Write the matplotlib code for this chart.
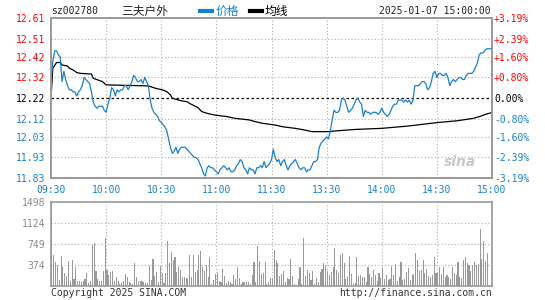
import numpy as np
import matplotlib
matplotlib.use("Agg")
import matplotlib.pyplot as plt
from matplotlib.lines import Line2D

plt.rcParams['font.family'] = ['DejaVu Sans Mono', 'Noto Sans CJK SC']

# ---- data (minute index 0 = 09:30, 120 = 11:30/13:00, 240 = 15:00)
prev_close = 12.22

price = [
    12.30, 12.40, 12.45, 12.45, 12.43, 12.42, 12.30, 12.35, 12.31, 12.28,
    12.26, 12.26, 12.25, 12.25, 12.23, 12.25, 12.26, 12.28, 12.32, 12.31,
    12.30, 12.29, 12.25, 12.20, 12.18, 12.17, 12.18, 12.18, 12.18, 12.16,
    12.15, 12.19, 12.22, 12.27, 12.26, 12.23, 12.26, 12.25, 12.26, 12.26,
    12.28, 12.28, 12.26, 12.28, 12.30, 12.33, 12.32, 12.30, 12.30, 12.31,
    12.29, 12.32, 12.30, 12.28, 12.21, 12.17, 12.15, 12.14, 12.13, 12.11,
    12.10, 12.09, 12.08, 12.06, 12.02, 11.98, 11.95, 11.96, 11.98, 11.95,
    11.97, 11.98, 11.98, 11.98, 11.97, 11.96, 11.95, 11.94, 11.93, 11.93,
    11.92, 11.90, 11.88, 11.85, 11.84, 11.88, 11.89, 11.88, 11.88, 11.87,
    11.86, 11.85, 11.87, 11.88, 11.89, 11.88, 11.87, 11.88, 11.86, 11.86,
    11.87, 11.89, 11.90, 11.92, 11.91, 11.88, 11.87, 11.85, 11.88, 11.87,
    11.87, 11.85, 11.88, 11.88, 11.89, 11.88, 11.91, 11.88, 11.89, 11.90,
    11.92, 11.97, 11.93, 11.91, 11.92, 11.89, 11.91, 11.92, 11.89, 11.87,
    11.89, 11.90, 11.91, 11.92, 11.90, 11.88, 11.87, 11.88, 11.88, 11.86,
    11.87, 11.87, 11.89, 11.91, 11.91, 11.92, 11.98, 12.00, 12.01, 12.02,
    12.03, 12.02, 12.06, 12.11, 12.16, 12.15, 12.15, 12.16, 12.21, 12.22,
    12.21, 12.18, 12.15, 12.16, 12.17, 12.19, 12.21, 12.22, 12.20, 12.19,
    12.13, 12.16, 12.15, 12.15, 12.14, 12.15, 12.15, 12.15, 12.14, 12.15,
    12.17, 12.15, 12.14, 12.13, 12.14, 12.16, 12.18, 12.19, 12.19, 12.21,
    12.21, 12.21, 12.20, 12.21, 12.20, 12.21, 12.19, 12.21, 12.28, 12.28,
    12.28, 12.29, 12.30, 12.30, 12.29, 12.26, 12.27, 12.30, 12.34, 12.35,
    12.32, 12.34, 12.34, 12.33, 12.33, 12.34, 12.32, 12.28, 12.30, 12.31,
    12.30, 12.31, 12.32, 12.32, 12.31, 12.31, 12.33, 12.34, 12.34, 12.34,
    12.35, 12.37, 12.39, 12.43, 12.44, 12.44, 12.45, 12.46, 12.46, 12.46,
    12.46,
]

avg_idx = [0, 1, 3, 5, 6, 9, 10, 12, 14, 16, 22, 23, 28, 30, 53, 57, 61, 63,
           65, 66, 71, 74, 76, 80, 82, 85, 89, 96, 100, 108, 111, 115, 122,
           126, 133, 138, 142, 151, 157, 166, 180, 194, 210, 221, 230, 234,
           237, 240]
avg_val = [12.22, 12.365, 12.393, 12.393, 12.381, 12.376, 12.365, 12.357,
           12.344, 12.34, 12.337, 12.316, 12.30, 12.284, 12.279, 12.267,
           12.259, 12.251, 12.235, 12.219, 12.206, 12.202, 12.191, 12.173,
           12.154, 12.145, 12.137, 12.129, 12.121, 12.113, 12.105, 12.097,
           12.088, 12.08, 12.072, 12.064, 12.056, 12.056, 12.061, 12.067,
           12.072, 12.083, 12.10, 12.109, 12.121, 12.132, 12.142, 12.149]

volume = [
    1498, 558, 432, 378, 108, 540, 342, 240, 180, 450,
    90, 468, 120, 342, 90, 90, 78, 90, 120, 234,
    60, 90, 738, 768, 270, 120, 90, 90, 270, 858,
    288, 198, 252, 270, 90, 162, 90, 30, 60, 90,
    210, 162, 72, 50, 30, 402, 162, 90, 90, 90,
    72, 54, 54, 360, 108, 486, 180, 252, 72, 360,
    240, 60, 234, 798, 402, 612, 462, 510, 252, 342,
    288, 162, 162, 138, 132, 558, 162, 558, 252, 288,
    558, 630, 330, 270, 378, 162, 522, 42, 108, 222,
    234, 90, 78, 300, 180, 60, 90, 78, 42, 198,
    132, 330, 138, 42, 72, 72, 72, 72, 30, 198,
    432, 72, 720, 438, 222, 240, 432, 42, 78, 138,
    150, 648, 462, 408, 180, 222, 270, 78, 138, 120,
    480, 180, 42, 12, 120, 330, 42, 858, 180, 288,
    240, 108, 270, 42, 138, 72, 258, 300, 408, 348,
    270, 198, 258, 342, 678, 288, 240, 558, 594, 408,
    132, 162, 540, 210, 42, 60, 522, 180, 198, 162,
    162, 72, 342, 210, 162, 288, 198, 90, 234, 138,
    318, 120, 198, 108, 120, 360, 198, 390, 90, 162,
    432, 108, 120, 252, 318, 108, 198, 210, 582, 462,
    270, 288, 462, 240, 300, 180, 162, 198, 522, 240,
    252, 330, 222, 342, 162, 198, 162, 132, 330, 240,
    198, 420, 162, 138, 468, 510, 408, 378, 270, 378,
    432, 378, 390, 1008, 486, 810, 450, 582, 0, 0,
    0,
]

price_ticks = [12.61, 12.51, 12.42, 12.32, 12.22, 12.12, 12.03, 11.93, 11.83]
pct_labels = ['+3.19%', '+2.39%', '+1.60%', '+0.80%', '0.00%',
              '-0.80%', '-1.60%', '-2.39%', '-3.19%']
time_pos = [0, 30, 60, 90, 120, 150, 180, 210, 240]
time_labels = ['09:30', '10:00', '10:30', '11:00', '11:30',
               '13:30', '14:00', '14:30', '15:00']
vol_ticks = [374, 749, 1124, 1498]

BLUE = '#1a7fd0'
RED = '#ff0000'
GRAY = '#999999'
FS = 7

fig = plt.figure(figsize=(5.45, 3.0), dpi=100)
ax = fig.add_axes([51 / 545, 1 - 178 / 300, 441 / 545, 160 / 300])
axv = fig.add_axes([51 / 545, 1 - 286 / 300, 441 / 545, 84 / 300])

grid_kw = dict(color='#aaaaaa', linestyle=(0, (1, 2)), linewidth=0.8, zorder=0)

# price panel
ax.set_xlim(0, 240)
ax.set_ylim(11.83, 12.61)
for y in price_ticks[1:-1]:
    if y != prev_close:
        ax.axhline(y, **grid_kw)
for x in time_pos[1:-1]:
    ax.axvline(x, **grid_kw)
ax.axhline(prev_close, color='black', linestyle=(0, (2, 2)), linewidth=0.9, zorder=1)

ax.plot(avg_idx, avg_val, color='black', linewidth=0.9, zorder=2)
ax.plot(np.arange(len(price)), price, color=BLUE, linewidth=0.9, zorder=3)

ax.set_yticks(price_ticks)
ax.set_yticklabels(['%.2f' % v for v in price_ticks], fontsize=FS)
for lab, v in zip(ax.get_yticklabels(), price_ticks):
    lab.set_color(RED if v > prev_close else ('black' if v == prev_close else BLUE))
ax.set_xticks(time_pos)
ax.set_xticklabels(time_labels, fontsize=FS, color=BLUE)
ax.tick_params(length=0, pad=4)
ax.tick_params(axis='x', pad=5)

ax2 = ax.twinx()
ax2.set_ylim(ax.get_ylim())
ax2.set_yticks(price_ticks)
ax2.set_yticklabels(pct_labels, fontsize=FS)
for lab, v in zip(ax2.get_yticklabels(), price_ticks):
    lab.set_color(RED if v > prev_close else ('black' if v == prev_close else BLUE))
ax2.tick_params(length=0, pad=1.5)

for a in (ax, ax2, axv):
    for s in a.spines.values():
        s.set_color(GRAY)
        s.set_linewidth(1.2)

ax.text(0.965, 0.1, 'sina', transform=ax.transAxes, ha='right', va='center',
        fontsize=10, fontweight='bold', style='italic', color='#c8c8c8',
        family='DejaVu Sans', zorder=1)

# volume panel
axv.set_xlim(0, 240)
axv.set_ylim(0, 1498)
for y in vol_ticks[:-1]:
    axv.axhline(y, **grid_kw)
for x in time_pos[1:-1]:
    axv.axvline(x, **grid_kw)
axv.bar(np.arange(len(volume)) + 0.5, volume, width=0.6, color=GRAY, zorder=2)
axv.set_yticks(vol_ticks)
axv.set_yticklabels([str(v) for v in vol_ticks], fontsize=FS, color='#888888')
axv.set_xticks([])
axv.tick_params(length=0, pad=4)

# header
fig.text(51 / 545, 1 - 11 / 300, 'sz002780', fontsize=FS, va='center', color='#222222')
fig.text(121 / 545, 1 - 11 / 300, '三夫户外', fontsize=8.5, va='center',
         family=['Noto Sans CJK SC'], color='#222222')
fig.add_artist(Line2D([200 / 545, 212 / 545], [1 - 11 / 300] * 2, color=BLUE, linewidth=3))
fig.text(216 / 545, 1 - 11 / 300, '价格', fontsize=8.5, va='center',
         family=['Noto Sans CJK SC'], color=BLUE)
fig.add_artist(Line2D([250 / 545, 262 / 545], [1 - 11 / 300] * 2, color='black', linewidth=3))
fig.text(265 / 545, 1 - 11 / 300, '均线', fontsize=8.5, va='center',
         family=['Noto Sans CJK SC'], color='black')
fig.text(491 / 545, 1 - 11 / 300, '2025-01-07 15:00:00', fontsize=FS, va='center',
         ha='right', color='#222222')

# footer
fig.text(51 / 545, 1 - 293 / 300, 'Copyright 2025 SINA.COM', fontsize=FS, va='center',
         color='#333333')
fig.text(492 / 545, 1 - 293 / 300, 'http://finance.sina.com.cn', fontsize=FS,
         va='center', ha='right', color='#333333')

fig.savefig('out.png', dpi=100)
